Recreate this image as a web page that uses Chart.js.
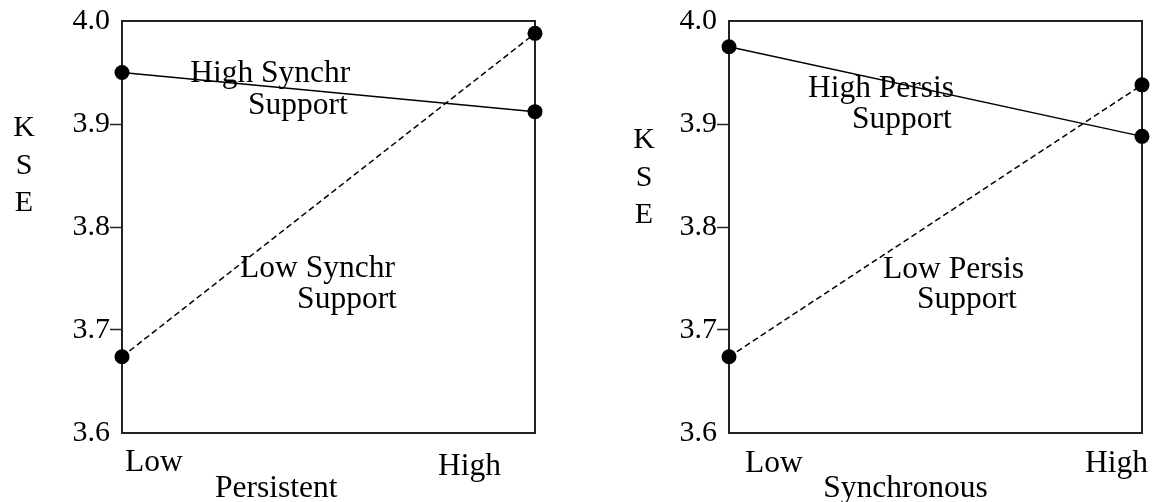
<!DOCTYPE html>
<html>
<head>
<meta charset="utf-8">
<script src="https://cdn.jsdelivr.net/npm/chart.js@4"></script>
<style>
  html, body { margin: 0; padding: 0; background: #fff; }
  #wrap { position: relative; width: 1156px; height: 502px; }
  .panel { position: absolute; top: 0; width: 578px; height: 502px; }
</style>
</head>
<body>
<div id="wrap">
  <div class="panel" style="left:0"><canvas id="js-persistent-chart" width="578" height="502"></canvas></div>
  <div class="panel" style="left:578px"><canvas id="js-synchronous-chart" width="578" height="502"></canvas></div>
</div>
<script>
// categories on the x axis
const levels = ['Low', 'High'];

// KSE means, left panel (x = Persistent)
const highSynchr = [3.950, 3.912];
const lowSynchr = [3.674, 3.988];

// KSE means, right panel (x = Synchronous)
const highPersis = [3.975, 3.888];
const lowPersis = [3.674, 3.938];

// y axis
const yMin = 3.6;
const yMax = 4.0;
const yStep = 0.1;
const yLetters = ['K', 'S', 'E'];

const serif = '"Liberation Serif", "Times New Roman", Times, serif';

// box, line labels, category labels, axis title and the stacked KSE
const panelText = {
  id: 'panelText',
  beforeDatasetsDraw(chart) {
    const a = chart.chartArea;
    const ctx = chart.ctx;
    ctx.save();
    ctx.strokeStyle = '#222';
    ctx.lineWidth = 2;
    ctx.strokeRect(a.left, a.top, a.right - a.left, a.bottom - a.top);
    ctx.restore();
  },
  afterDraw(chart, args, opts) {
    const ctx = chart.ctx;
    const a = chart.chartArea;
    const x = chart.scales.x;
    const y = chart.scales.y;
    ctx.save();
    ctx.fillStyle = '#000';
    ctx.font = '31.5px ' + serif;
    ctx.textBaseline = 'alphabetic';
    ctx.textAlign = 'left';
    opts.notes.forEach(n => {
      ctx.fillText(n.text, x.getPixelForValue(n.x), y.getPixelForValue(n.y));
    });
    levels.forEach((lab, i) => {
      ctx.fillText(lab, x.getPixelForValue(opts.cats[i].x), a.bottom + opts.cats[i].dy);
    });
    ctx.fillText(opts.title, x.getPixelForValue(opts.titleX), a.bottom + 64);
    ctx.textAlign = 'center';
    ctx.font = '30px ' + serif;
    yLetters.forEach((l, i) => {
      ctx.fillText(l, opts.kseX, opts.kseY + i * 37.5);
    });
    ctx.restore();
  }
};

function kseChart(id, solid, dashed, axisWidth, padRight, text) {
  const canvas = document.getElementById(id).getContext('2d');
  return new Chart(canvas, {
    type: 'line',
    data: {
      labels: levels,
      datasets: [{
        label: 'High',
        data: solid,
        borderColor: '#000',
        borderWidth: 1.5,
        pointRadius: 7.5,
        pointBackgroundColor: '#000',
        pointBorderWidth: 0,
        clip: false
      },
      {
        label: 'Low',
        data: dashed,
        borderColor: '#000',
        borderWidth: 1.5,
        borderDash: [6, 3.5],
        pointRadius: 7.5,
        pointBackgroundColor: '#000',
        pointBorderWidth: 0,
        clip: false
      }]
    },
    options: {
      responsive: false,
      animation: false,
      events: [],
      layout: { padding: { left: 0, right: padRight, top: 21, bottom: 69 } },
      plugins: {
        legend: { display: false },
        tooltip: { enabled: false },
        panelText: text
      },
      scales: {
        x: {
          type: 'category',
          offset: false,
          display: false
        },
        y: {
          min: yMin,
          max: yMax,
          afterFit: s => { s.width = axisWidth; },
          border: { display: false },
          grid: {
            drawOnChartArea: false,
            drawTicks: true,
            tickLength: 12,
            tickWidth: 1.5,
            tickColor: c => (c.index === 0 || c.index === 4) ? 'rgba(0,0,0,0)' : '#222'
          },
          ticks: {
            stepSize: yStep,
            padding: 0,
            color: '#000',
            font: { family: serif, size: 30 },
            callback: v => v.toFixed(1)
          }
        }
      }
    },
    plugins: [panelText]
  });
}

kseChart('js-persistent-chart', highSynchr, lowSynchr, 122, 43, {
  notes: [
    { text: 'High Synchr', x: 0.165, y: 3.9408 },
    { text: 'Support', x: 0.305, y: 3.9097 },
    { text: 'Low Synchr', x: 0.286, y: 3.7515 },
    { text: 'Support', x: 0.424, y: 3.7214 }
  ],
  cats: [{ x: 0.007, dy: 38 }, { x: 0.765, dy: 42 }],
  title: 'Persistent',
  titleX: 0.225,
  kseX: 24,
  kseY: 136
});

kseChart('js-synchronous-chart', highPersis, lowPersis, 151, 14, {
  notes: [
    { text: 'High Persis', x: 0.191, y: 3.926 },
    { text: 'Support', x: 0.298, y: 3.896 },
    { text: 'Low Persis', x: 0.373, y: 3.7505 },
    { text: 'Support', x: 0.455, y: 3.7214 }
  ],
  cats: [{ x: 0.039, dy: 39 }, { x: 0.862, dy: 39 }],
  title: 'Synchronous',
  titleX: 0.228,
  kseX: 66,
  kseY: 148
});
</script>
</body>
</html>
